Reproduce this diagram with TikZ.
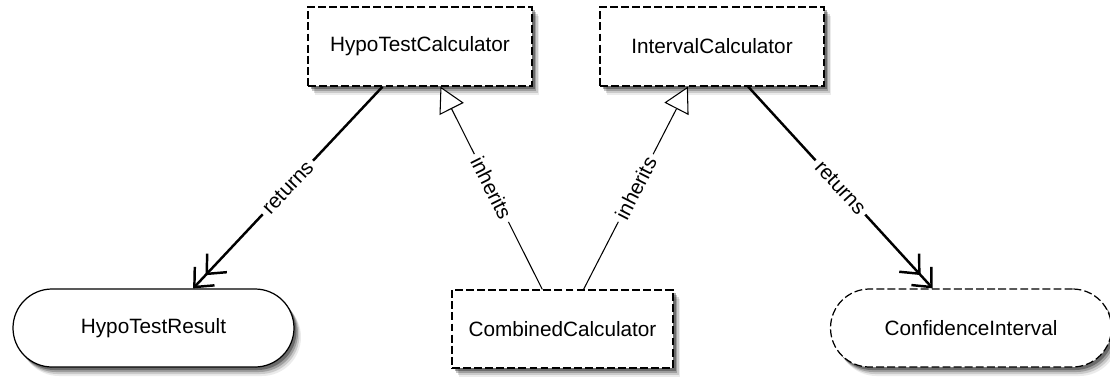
\documentclass[tikz,border=0pt]{standalone}
\usepackage{fontspec}
\setmainfont{Liberation Sans}
\usetikzlibrary{arrows.meta,shadows}

\begin{document}
\begin{tikzpicture}[font=\fontsize{11.8}{14}\selectfont,
  shadowed/.style={drop shadow={shadow xshift=0.14cm,shadow yshift=-0.18cm,fill=black,opacity=0.08},
    drop shadow={shadow xshift=0.11cm,shadow yshift=-0.14cm,fill=black,opacity=0.14},
    drop shadow={shadow xshift=0.08cm,shadow yshift=-0.1cm,fill=black,opacity=0.22},
    drop shadow={shadow xshift=0.05cm,shadow yshift=-0.06cm,fill=black,opacity=0.32}},
  klass/.style={shape=rectangle,draw,line width=0.7pt,dash pattern=on 4.5pt off 1.8pt,fill=white,minimum width=4.48cm,minimum height=1.58cm,inner sep=0,shadowed},
  pill/.style={shape=rectangle,draw,line width=0.7pt,rounded corners=0.78cm,fill=white,minimum width=5.62cm,minimum height=1.56cm,inner sep=0,shadowed},
  returns/.style={line width=1.4pt,-{Straight Barb[length=3mm,width=5.4mm]Straight Barb[length=3mm,width=5.4mm]}},
  inherits/.style={line width=0.6pt,-{Triangle[open,fill=white,length=5mm,width=5.4mm]}},
  lbl/.style={fill=white,sloped,midway,inner sep=2.5pt}]
\useasboundingbox (0,0) rectangle (22.2,7.52);
\foreach \n/\x/\t in {htc/8.4/HypoTestCalculator,ic/14.24/IntervalCalculator}{%
  \node[klass] (\n) at (\x,6.59) {\t};}
\node[klass,minimum width=4.42cm,minimum height=1.56cm] (cc) at (11.25,0.94) {CombinedCalculator};
\node[pill] (htr) at (3.07,0.96) {HypoTestResult};
\node[pill,dash pattern=on 4.5pt off 1.8pt] (ci) at (19.42,0.96) {ConfidenceInterval};
\draw[returns] (htc.227) -- node[lbl] {returns} (htr.45);
\draw[returns] (ic.312) -- node[lbl] {returns} (ci.134);
\draw[inherits] (cc.117) -- node[lbl] {inherits} (htc.297);
\draw[inherits] (cc.62) -- node[lbl] {inherits} (ic.239);
\end{tikzpicture}
\end{document}
